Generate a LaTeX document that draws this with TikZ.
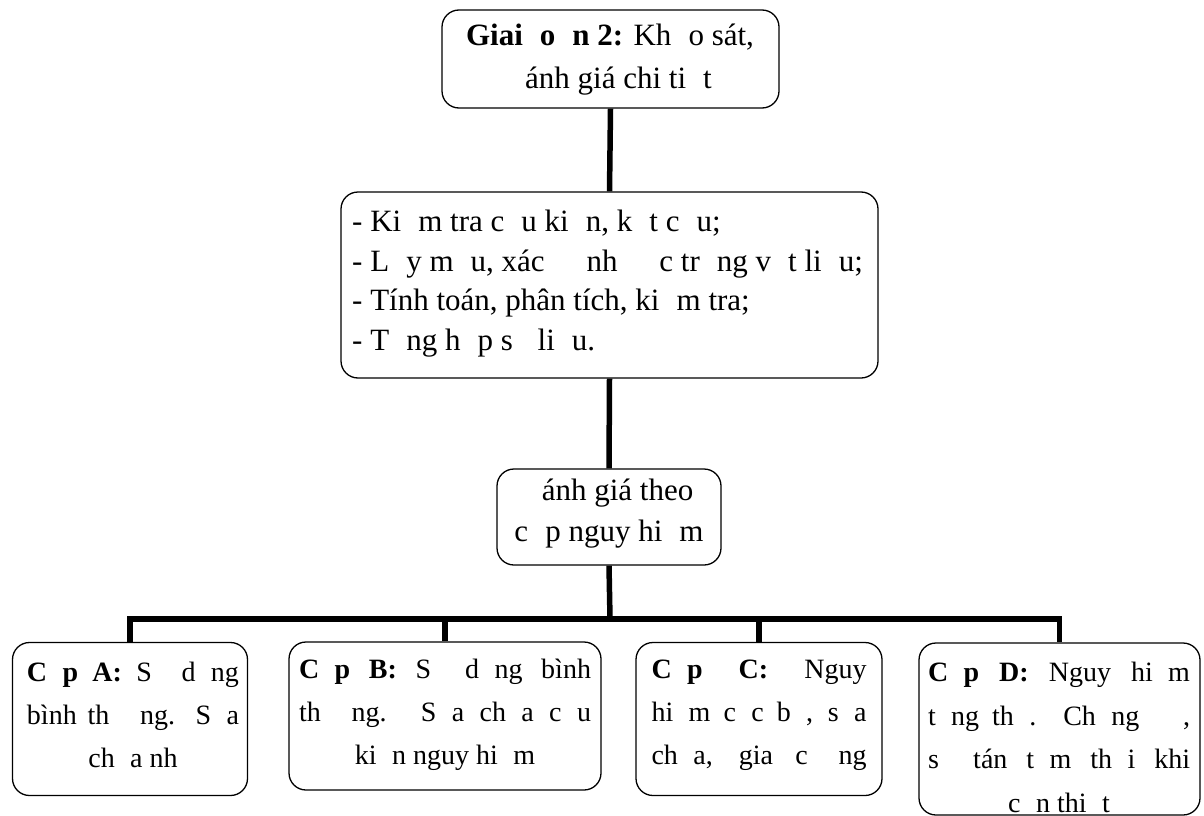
\documentclass[tikz,border=0pt]{standalone}
\usepackage{fontspec}
\setmainfont{Liberation Serif}
\newcommand\gp{\hspace{0.55em}}
\newcommand\bg{\hspace{0.55em}}
\begin{document}
\begin{tikzpicture}[x=1pt,y=-1pt,
  box/.style={draw, rounded corners=17pt, line width=1.3pt, inner sep=0pt},
  conn/.style={line width=5.5pt},
  txt/.style={inner sep=0pt, align=center},
  btxt/.style={inner sep=0pt, align=center, font=\fontsize{28}{43}\selectfont}]
\useasboundingbox (0,0) rectangle (1204,816);
% boxes
\node[box, minimum width=337pt, minimum height=98pt] (top) at (610.5,59) {};
\node[box, minimum width=537pt, minimum height=186pt] (mid) at (609.5,285) {};
\node[box, minimum width=224pt, minimum height=96pt] (eval) at (609,517) {};
\node[box, minimum width=235pt, minimum height=153pt] (A) at (130,719) {};
\node[box, minimum width=312pt, minimum height=148pt] (B) at (445,716) {};
\node[box, minimum width=246pt, minimum height=153pt] (C) at (759,719) {};
\node[box, minimum width=281pt, minimum height=172pt] (D) at (1059.5,729) {};
% texts
\node[txt, font=\fontsize{31}{43}\selectfont] (ttop) at (610,60)
  {\textbf{Giai\gp o\gp n 2:} Kh\gp o sát,\\ \gp ánh giá chi ti\gp t};
\node[txt, anchor=west, align=left, font=\fontsize{31}{39.5}\selectfont] (tmid) at (352,283.5)
  {- Ki\gp m tra c\gp u ki\gp n, k\gp t c\gp u;\\
   - L\gp y m\gp u, xác \gp\gp nh \gp\gp c tr\gp ng v\gp t li\gp u;\\
   - Tính toán, phân tích, ki\gp m tra;\\
   - T\gp ng h\gp p s\gp\ li\gp u.};
\node[txt, font=\fontsize{31}{41}\selectfont] (teval) at (609,513.5)
  {\gp ánh giá theo\\ c\gp p nguy hi\gp m};
\node[btxt] (tA) at (133,715)
  {\makebox[212pt][s]{\textbf{C\bg p A:} S\bg\ d\bg ng}\\
   \makebox[212pt][s]{bình th\bg\bg ng. S\bg a}\\
   ch\bg a nh\bg};
\node[btxt] (tB) at (445,715)
  {\makebox[292pt][s]{\textbf{C\bg p B:} S\bg\ d\bg ng bình}\\
   \makebox[292pt][s]{th\bg\bg ng. S\bg a ch\bg a c\bg u}\\
   ki\bg n nguy hi\bg m};
\node[btxt] (tC) at (759,715)
  {\makebox[215pt][s]{\textbf{C\bg p C:} Nguy}\\
   \makebox[215pt][s]{hi\bg m c\bg c b\bg , s\bg a}\\
   \makebox[215pt][s]{ch\bg a, gia c\bg\bg ng}};
\node[btxt, font=\fontsize{28}{43.5}\selectfont] (tD) at (1059,737.5)
  {\makebox[262pt][s]{\textbf{C\bg p D:} Nguy hi\bg m}\\
   \makebox[262pt][s]{t\bg ng th\bg . Ch\bg ng \bg\bg ,}\\
   \makebox[262pt][s]{s\bg\ tán t\bg m th\bg i khi}\\
   c\bg n thi\bg t};
% connectors
\coordinate (bar) at (610,619);
\draw[conn] (top.south) -- (mid.north);
\draw[conn] (mid.south) -- (eval.north);
\draw[conn] (eval.south) -- (bar);
\draw[conn, line join=miter] (A.north) -- (A.north |- bar) -- (D.north |- bar) -- (D.north);
\draw[conn] (B.north) -- (B.north |- bar);
\draw[conn] (C.north) -- (C.north |- bar);
\end{tikzpicture}
\end{document}
